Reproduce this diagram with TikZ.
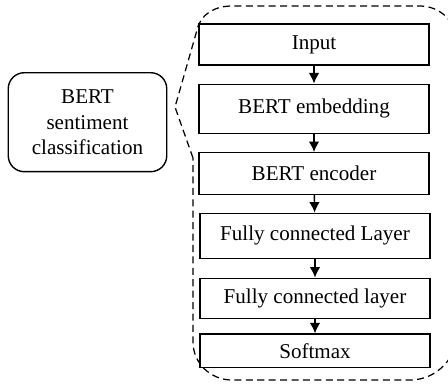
\documentclass[tikz,border=0pt]{standalone}
\usepackage{fontspec}
\setmainfont{Liberation Serif}
\usetikzlibrary{arrows.meta}

\begin{document}
\begin{tikzpicture}[x=0.02cm, y=-0.02cm, line width=0.8pt,
		layer/.style={
			rectangle, draw=black, minimum width=4.6cm, inner sep=0pt,
			font=\fontsize{12}{14}\selectfont
		},
		flow/.style={-{Latex[length=6pt,width=6pt]}},
		outline/.style={dash pattern=on 4pt off 2.5pt, line width=0.7pt}
	]
		\useasboundingbox (0,0) rectangle (448,383);

		\node[
			rectangle, rounded corners=0.32cm, draw=black,
			minimum width=3.17cm, minimum height=1.98cm, align=center,
			font=\fontsize{12}{14.5}\selectfont
		] (B) at (87.5,122.2) {BERT\\sentiment\\classification};

		\node[layer, minimum height=0.82cm] (L1) at (314,44.5) {Input};
		\node[layer, minimum height=0.98cm] (L2) at (314,108.7) {BERT embedding};
		\node[layer, minimum height=0.83cm] (L3) at (314,173.5) {BERT encoder};
		\node[layer, minimum height=0.9cm] (L4) at (315,235.8) {Fully connected Layer};
		\node[layer, minimum height=0.8cm] (L5) at (315,298.3) {Fully connected layer};
		\node[layer, minimum height=0.67cm] (L6) at (315,350.8) {Softmax};

		\draw [flow] (L1) -- (L2);
		\draw [flow] (L2) -- (L3);
		\draw [flow] (L3) -- (L4);
		\draw [flow] (L4) -- (L5);
		\draw [flow] (L5) -- (L6);

		% dashed frame round the layers, pointing at the label
		\draw [outline] (193,158) -- (175,107) -- (197,30)
			to[out=78,in=180] (232,6) -- (420,6)
			to[out=0,in=90] (458,45) -- (458,330)
			to[out=-90,in=0] (410,380) -- (232,380)
			to[out=180,in=-90] (193,342) -- cycle;
	\end{tikzpicture}
\end{document}
